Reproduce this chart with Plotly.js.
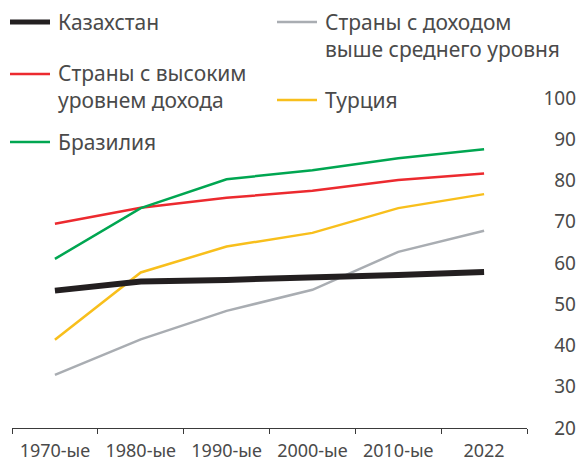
<!DOCTYPE html>
<html><head><meta charset="utf-8">
<script src="https://cdn.plot.ly/plotly-3.0.1.min.js"></script>
<style>html,body{margin:0;padding:0;background:#fff}#chart{width:581px;height:462px}</style>
</head><body><div id="chart"></div>
<script>
const categories = ["1970-ые","1980-ые","1990-ые","2000-ые","2010-ые","2022"];
const kazakhstan = [53.3, 55.5, 55.9, 56.4, 57.1, 57.8];
const highIncome = [69.5, 73.4, 75.8, 77.5, 80.1, 81.7];
const brazil = [61.0, 73.3, 80.3, 82.5, 85.4, 87.6];
const turkey = [41.4, 57.7, 64.0, 67.3, 73.3, 76.7];
const upperMiddle = [32.9, 41.5, 48.4, 53.5, 62.7, 67.8];
const yTicks = [20,30,40,50,60,70,80,90,100];

const names = {
  kz: "Казахстан",
  um: "Страны с доходом<br>выше среднего уровня",
  hi: "Страны с высоким<br>уровнем дохода",
  tr: "Турция",
  br: "Бразилия"
};
const colors = {kz:"#231f20", um:"#a9adb2", hi:"#ec2a2f", tr:"#f8bf1c", br:"#00a651"};

const W = 581, H = 462, M = {l:12, r:2, t:98, b:34};
const PW = W - M.l - M.r, PH = H - M.t - M.b;
const px = x => (x - M.l) / PW;
const py = y => (H - M.b - y) / PH;

function tr(y, c, w, n){ return {x: categories, y: y, type:"scatter", mode:"lines", name:n,
  line:{color:c, width:w}, showlegend:false, hoverinfo:"skip"}; }

const data = [
  tr(upperMiddle, colors.um, 2.5, names.um),
  tr(turkey, colors.tr, 2.5, names.tr),
  tr(highIncome, colors.hi, 2.5, names.hi),
  tr(brazil, colors.br, 2.5, names.br),
  tr(kazakhstan, colors.kz, 6, names.kz)
];

const textColor = "#4a4a4a";
const legFont = {family:"Noto Sans, sans-serif", size:21, color:textColor};
const legend = [
  {key:"kz", x0:10, x1:50, y:22, tx:56, w:5},
  {key:"hi", x0:10, x1:50, y:74, tx:56, w:2.5, ty:87},
  {key:"br", x0:10, x1:50, y:142, tx:56, w:2.5},
  {key:"um", x0:277, x1:317, y:22, tx:323, w:2.5, ty:35},
  {key:"tr", x0:277, x1:317, y:100, tx:323, w:2.5}
];
const shapes = [], annotations = [];
legend.forEach(L => {
  shapes.push({type:"line", xref:"paper", yref:"paper", x0:px(L.x0), x1:px(L.x1), y0:py(L.y), y1:py(L.y),
    line:{color:colors[L.key], width:L.w}});
  annotations.push({xref:"paper", yref:"paper", x:px(L.tx), y:py(L.ty || L.y), xanchor:"left", yanchor:"middle",
    text:names[L.key], showarrow:false, align:"left", font:legFont});
});

const layout = {
  width:W, height:H, margin:M, paper_bgcolor:"#fff", plot_bgcolor:"#fff",
  showlegend:false,
  xaxis:{type:"category", domain:[0, px(527)], range:[-0.5, 5.5], showgrid:false, zeroline:false,
    showline:true, linecolor:"#3a3a3a", linewidth:1, ticks:"outside", tickson:"boundaries",
    ticklen:5, tickcolor:"#3a3a3a", tickwidth:1, ticklabelstandoff:6,
    tickfont:{family:"Noto Sans, sans-serif", size:18, color:textColor}, fixedrange:true},
  yaxis:{range:[20,100], side:"right", anchor:"free", position:1, showgrid:false, zeroline:false,
    showline:false, ticks:"", tickvals:yTicks, ticktext:yTicks.map(String), ticklabelposition:"inside",
    ticklabeloverflow:"allow",
    tickfont:{family:"Noto Sans, sans-serif", size:19, color:textColor}, fixedrange:true},
  shapes:shapes, annotations:annotations
};
Plotly.newPlot("chart", data, layout, {staticPlot:true, displayModeBar:false});
</script></body></html>
